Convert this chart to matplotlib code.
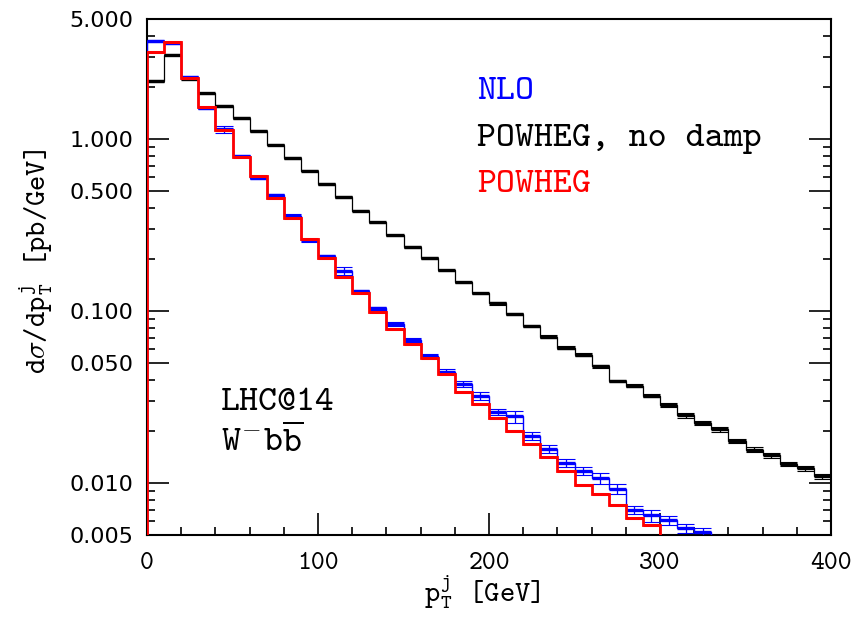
#pT of the hardest jet, W- b bbar at the LHC (14 TeV)

import numpy as np
import matplotlib.pyplot as plt

#bin edges, 10 GeV wide bins
edges_black = np.arange(0, 410, 10)
edges_blue = np.arange(0, 340, 10)
edges_red = np.arange(0, 310, 10)

#POWHEG, no damp
black_vals = [2.18, 3.10, 2.25, 1.85, 1.56, 1.33, 1.12, 0.93, 0.78, 0.657,
              0.55, 0.46, 0.385, 0.329, 0.276, 0.236, 0.204, 0.173, 0.147, 0.127,
              0.111, 0.096, 0.082, 0.071, 0.0613, 0.0560, 0.0478, 0.0393, 0.0369, 0.0322,
              0.0284, 0.0248, 0.0223, 0.0206, 0.0176, 0.0157, 0.0145, 0.0129, 0.0122, 0.0110]
black_err = [0.01, 0.01, 0.01, 0.01, 0.01, 0.01, 0.01, 0.01, 0.01, 0.01,
             0.01, 0.01, 0.01, 0.01, 0.01, 0.01, 0.01, 0.01, 0.01, 0.01,
             0.015, 0.015, 0.015, 0.02, 0.02, 0.02, 0.02, 0.02, 0.02, 0.02,
             0.025, 0.03, 0.025, 0.03, 0.025, 0.03, 0.03, 0.03, 0.03, 0.035]

#NLO
blue_vals = [3.72, 3.62, 2.30, 1.51, 1.14, 0.80, 0.595, 0.472, 0.358, 0.258,
             0.209, 0.172, 0.131, 0.104, 0.0842, 0.068, 0.055, 0.0445, 0.038, 0.0321,
             0.026, 0.0245, 0.0189, 0.0158, 0.0131, 0.0118, 0.0107, 0.0093, 0.0070, 0.0065,
             0.0061, 0.0055, 0.0052]
blue_err = [0.01, 0.01, 0.01, 0.01, 0.05, 0.015, 0.015, 0.02, 0.02, 0.02,
            0.02, 0.05, 0.02, 0.02, 0.03, 0.03, 0.03, 0.03, 0.04, 0.05,
            0.04, 0.08, 0.05, 0.05, 0.05, 0.06, 0.07, 0.07, 0.06, 0.08,
            0.06, 0.06, 0.05]

#POWHEG
red_vals = [3.23, 3.69, 2.26, 1.54, 1.13, 0.784, 0.614, 0.455, 0.347, 0.264,
            0.204, 0.159, 0.127, 0.099, 0.0793, 0.0644, 0.0535, 0.0433, 0.0341, 0.0287,
            0.0238, 0.0200, 0.0170, 0.0143, 0.0118, 0.0098, 0.0086, 0.0075, 0.0063, 0.0057]

y_ticks = [0.005, 0.01, 0.05, 0.1, 0.5, 1.0, 5.0]
x_ticks = [0, 100, 200, 300, 400]

#typewriter font for all the texts, like the original
TT = 'cmtt10'
plt.rcParams['mathtext.fontset'] = 'cm'
plt.rcParams['axes.unicode_minus'] = False

fig = plt.figure(figsize=(8.63, 6.18), dpi=100)
ax = fig.add_axes([147/863, 1-535/618, 684/863, 516/618])


def draw_hist(vals, edges, color, err=None, lw_step=1.0, lw_flat=2.2, z=2):
    vals = np.array(vals)
    lo = edges[:-1]
    hi = edges[1:]
    #thin step outline, closed down to the axis
    ax.stairs(vals, edges, baseline=1e-4, color=color, lw=lw_step, zorder=z)
    #thick flat tops
    ax.hlines(vals, lo, hi, color=color, lw=lw_flat, zorder=z)
    if err is not None:
        err = np.array(err)
        up = vals * (1 + err)
        dn = vals * (1 - err)
        ax.hlines(up, lo, hi, color=color, lw=0.8, zorder=z)
        ax.hlines(dn, lo, hi, color=color, lw=0.8, zorder=z)
        ax.vlines((lo + hi) / 2, dn, up, color=color, lw=0.9, zorder=z)


draw_hist(black_vals, edges_black, 'black', black_err, lw_step=0.9, lw_flat=2.4, z=2)
draw_hist(blue_vals, edges_blue, 'blue', blue_err, lw_step=1.0, lw_flat=2.4, z=3)
draw_hist(red_vals, edges_red, 'red', None, lw_step=2.0, lw_flat=2.2, z=4)

ax.set_xlim(0, 400)
ax.set_yscale('log')
ax.set_ylim(0.005, 5.0)

#ticks
ax.set_yticks(y_ticks)
ax.set_yticklabels(['%.3f' % t for t in y_ticks], fontfamily='DejaVu Sans', fontsize=16)
minor_y = [m * d for d in [0.001, 0.01, 0.1, 1.0] for m in [2, 3, 4, 6, 7, 8, 9]]
minor_y = [m for m in minor_y if 0.005 < m < 5.0]
ax.set_yticks(minor_y, minor=True)
ax.set_yticklabels([], minor=True)
ax.set_xticks(x_ticks)
ax.set_xticklabels([str(t) for t in x_ticks], fontfamily=TT, fontsize=19)
ax.set_xticks(np.arange(0, 401, 20), minor=True)

ax.tick_params(axis='y', which='major', direction='in', length=16, width=1.2,
               left=True, right=True, pad=10)
ax.tick_params(axis='y', which='minor', direction='in', length=6, width=1.2,
               left=True, right=True)
ax.tick_params(axis='x', which='major', direction='in', length=16, width=1.2,
               top=False, pad=12)
ax.tick_params(axis='x', which='minor', direction='in', length=6, width=1.2, top=False)
for s in ax.spines.values():
    s.set_linewidth(1.5)

#axis labels
fig.text(36/863, 1-261/618, r'd$\sigma$/dp$_{\mathtt{T}}^{\mathtt{j}}$ [pb/GeV]', rotation=90,
         ha='center', va='center', fontfamily=TT, fontsize=21)
fig.text(482/863, 1-592/618, r'p$_{\mathtt{T}}^{\mathtt{j}}$ [GeV]', ha='center', va='center',
         fontfamily=TT, fontsize=21)

#legend texts
fig.text(477/863, 1-99/618, 'NLO', color='blue', fontfamily=TT, fontsize=26, va='baseline')
fig.text(477/863, 1-146/618, 'POWHEG, no damp', color='black', fontfamily=TT,
         fontsize=26, va='baseline')
fig.text(477/863, 1-192/618, 'POWHEG', color='red', fontfamily=TT, fontsize=26, va='baseline')

fig.text(221/863, 1-410/618, 'LHC@14', fontfamily=TT, fontsize=26, va='baseline')
fig.text(221/863, 1-452/618, r'W$^{\mathtt{-}}$b$\overline{\mathtt{b}}$', fontfamily=TT,
         fontsize=26, va='baseline')

plt.savefig('out.png', dpi=100)
